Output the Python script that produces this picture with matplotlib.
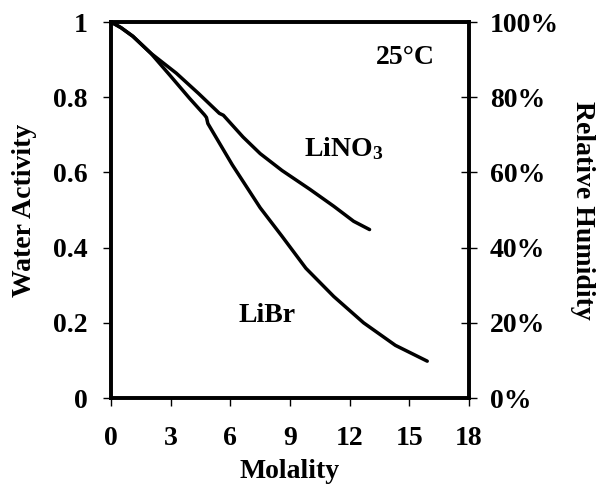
import matplotlib
matplotlib.use('Agg')
import matplotlib.pyplot as plt
from matplotlib.ticker import FuncFormatter

# water activity vs molality at 25 C
libr_m = [0.0, 0.5, 1.1, 2.0, 2.95, 3.95, 4.7, 4.8, 4.87, 6.1, 7.5, 8.6, 9.8, 11.2, 12.7, 14.3, 15.9]
libr_aw = [1.0, 0.985, 0.962, 0.917, 0.859, 0.797, 0.753, 0.746, 0.73, 0.62, 0.506, 0.43, 0.345, 0.27, 0.20, 0.14, 0.098]

lino3_m = [0.0, 0.5, 1.1, 2.0, 3.28, 4.4, 5.45, 5.65, 6.64, 7.5, 8.6, 10.0, 11.2, 12.2, 13.0]
lino3_aw = [1.0, 0.985, 0.962, 0.917, 0.864, 0.81, 0.757, 0.752, 0.694, 0.65, 0.605, 0.555, 0.51, 0.47, 0.448]

x_ticks = [0, 3, 6, 9, 12, 15, 18]
y_ticks = [0, 0.2, 0.4, 0.6, 0.8, 1.0]

plt.rcParams['font.family'] = ['Liberation Serif', 'DejaVu Serif']
plt.rcParams['font.weight'] = 'bold'
plt.rcParams['mathtext.fontset'] = 'custom'
plt.rcParams['mathtext.rm'] = 'Liberation Serif:bold'
plt.rcParams['mathtext.it'] = 'Liberation Serif:bold'
plt.rcParams['mathtext.bf'] = 'Liberation Serif:bold'
fs = 20

fig = plt.figure(figsize=(5.99, 5.0), dpi=100)
ax = fig.add_axes([111 / 599, 1 - 398 / 500, 358 / 599, 376 / 500])

ax.plot(libr_m, libr_aw, color='black', lw=2.5, solid_capstyle='round')
ax.plot(lino3_m, lino3_aw, color='black', lw=2.5, solid_capstyle='round')

ax.set_xlim(0, 18)
ax.set_ylim(0, 1)
ax.set_xticks(x_ticks)
ax.set_yticks(y_ticks)
ax.yaxis.set_major_formatter(FuncFormatter(lambda v, p: '%g' % v))
ax.tick_params(axis='both', direction='out', length=6, width=1, labelsize=fs)
ax.tick_params(axis='x', pad=14)
ax.tick_params(axis='y', pad=11)
for lbl in ax.get_xticklabels() + ax.get_yticklabels():
    lbl.set_fontweight('bold')
for s in ax.spines.values():
    s.set_linewidth(2.6)

ax2 = ax.twinx()
ax2.set_ylim(0, 1)
ax2.set_yticks(y_ticks)
ax2.yaxis.set_major_formatter(FuncFormatter(lambda v, p: '%d%%' % round(v * 100)))
ax2.tick_params(axis='y', direction='inout', length=12, width=1, labelsize=fs, pad=9)
for lbl in ax2.get_yticklabels():
    lbl.set_fontweight('bold')
for s in ax2.spines.values():
    s.set_linewidth(2.6)

ax.set_xlabel('Molality', fontsize=fs, fontweight='bold', labelpad=6)
ax.set_ylabel('Water Activity', fontsize=fs, fontweight='bold', labelpad=11)
ax2.set_ylabel('Relative Humidity', fontsize=fs, fontweight='bold', rotation=270, labelpad=26)

ax.text(14.8, 0.905, '25\u00b0C', fontsize=fs, fontweight='bold', ha='center', va='center')
ax.text(11.7, 0.663, 'LiNO$_3$', fontsize=fs, fontweight='bold', ha='center', va='center')
ax.text(7.85, 0.22, 'LiBr', fontsize=fs, fontweight='bold', ha='center', va='center')

fig.savefig('out.png', dpi=100)
